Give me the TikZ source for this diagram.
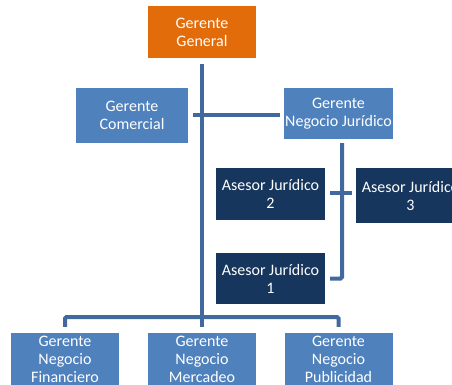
\documentclass[tikz,border=0pt]{standalone}
\usepackage{fontspec}
\setmainfont{Carlito}
\usetikzlibrary{positioning,calc}

\definecolor{naranja}{HTML}{E36C0A}
\definecolor{azul}{HTML}{4F81BD}
\definecolor{marino}{HTML}{17365D}
\definecolor{linea}{HTML}{41699F}

\begin{document}
\begin{tikzpicture}[x=1pt,y=-1pt,
					caja/.style={rectangle, minimum width=108pt, minimum height=52pt, align=center, inner sep=1pt, text=white, font=\fontsize{16}{18}\selectfont},
					gerente/.style={caja, fill=azul},
					asesor/.style={caja, fill=marino},
					conector/.style={draw=linea, line width=4pt, rounded corners=1.5pt}]
					\clip (0,0) rectangle (452,385);
					\node[caja, fill=naranja] (general) at (202,32) {Gerente\\General};
					\node[gerente, minimum width=112pt, minimum height=55pt] (comercial) at (132,115.5) {Gerente\\Comercial};
					\node[gerente, minimum width=109pt, minimum height=51pt] (juridico) at (338.5,113.5) {Gerente\\Negocio Jurídico};
					\node[asesor, minimum width=109pt] (asesor2) at (270.5,194) {Asesor Jurídico\\2};
					\node[asesor, minimum width=109pt, minimum height=55pt] (asesor3) at (410.5,195.5) {Asesor Jurídico\\3};
					\node[asesor, minimum width=109pt, minimum height=51pt] (asesor1) at (270.5,278.5) {Asesor Jurídico\\1};
					\node[gerente] (financiero) at (65,359) {Gerente\\Negocio\\Financiero};
					\node[gerente] (mercadeo) at (202,359) {Gerente\\Negocio\\Mercadeo};
					\node[gerente] (publicidad) at (338.5,359) {Gerente\\Negocio\\Publicidad};
					\coordinate (barra) at (202,317);
					
					% tronco
					\draw[conector] ([yshift=-6pt]general.south) -- ([yshift=6pt]mercadeo.north);
					\draw[conector, shorten <=5pt, shorten >=4pt] (comercial.east |- 0,115) -- (juridico.west |- 0,115);
					% asesores
					\draw[conector] ([xshift=3.5pt,yshift=-4pt]juridico.south) -- ([xshift=3.5pt]juridico.south |- asesor1.east) -- ([xshift=5pt]asesor1.east);
					\draw[conector, shorten <=5pt, shorten >=4pt] (asesor2.east |- 0,193) -- (asesor3.west |- 0,193);
					% fila de abajo
					\draw[conector] ([yshift=6pt]financiero.north) -- (financiero |- barra) -- (publicidad |- barra) -- ([yshift=6pt]publicidad.north);
\end{tikzpicture}
\end{document}
